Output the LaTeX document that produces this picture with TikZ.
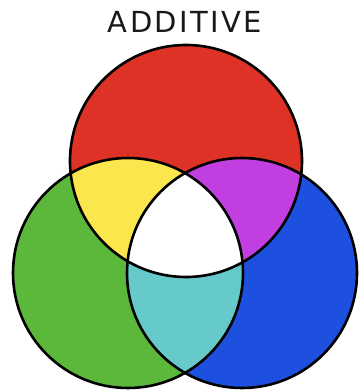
\documentclass[tikz,border=0pt]{standalone}
\usepackage{fontspec}
\newfontfamily\titlefont{DejaVu Sans}
\definecolor{cred}{HTML}{DF3226}
\definecolor{cgreen}{HTML}{5CB83B}
\definecolor{cblue}{HTML}{1E50E0}
\definecolor{cyellow}{HTML}{FBE64E}
\definecolor{cmagenta}{HTML}{C13FE0}
\definecolor{ccyan}{HTML}{66CACA}
\tikzset{
  outline/.style={draw=black, line width=2.6pt},
  titletext/.style={text=black!90, inner sep=0pt}
}
\newcommand\ltsp{\kern2.4pt}
\begin{document}
\begin{tikzpicture}[x=1pt,y=1pt]
\useasboundingbox (0,0) rectangle (359,390);
\fill[white] (0,0) rectangle (359,390);
\def\redc{(186,229) circle (116)}
\def\greenc{(128,117) circle (115)}
\def\bluec{(242,117) circle (115)}
% base fills
\fill[cred] \redc;
\fill[cgreen] \greenc;
\fill[cblue] \bluec;
% pairwise overlaps
\begin{scope}
  \clip \redc;
  \fill[cyellow] \greenc;
  \fill[cmagenta] \bluec;
\end{scope}
\begin{scope}
  \clip \greenc;
  \fill[ccyan] \bluec;
\end{scope}
\begin{scope}
  \clip \redc;
  \clip \greenc;
  \fill[white] \bluec;
\end{scope}
% outlines
\draw[outline] \redc;
\draw[outline] \greenc;
\draw[outline] \bluec;
% title
\node[titletext, anchor=base] (title) at (185,357)
  {\titlefont\fontsize{29}{29}\selectfont A\ltsp D\ltsp D\ltsp I\ltsp T\ltsp I\ltsp V\ltsp E};
\end{tikzpicture}
\end{document}
